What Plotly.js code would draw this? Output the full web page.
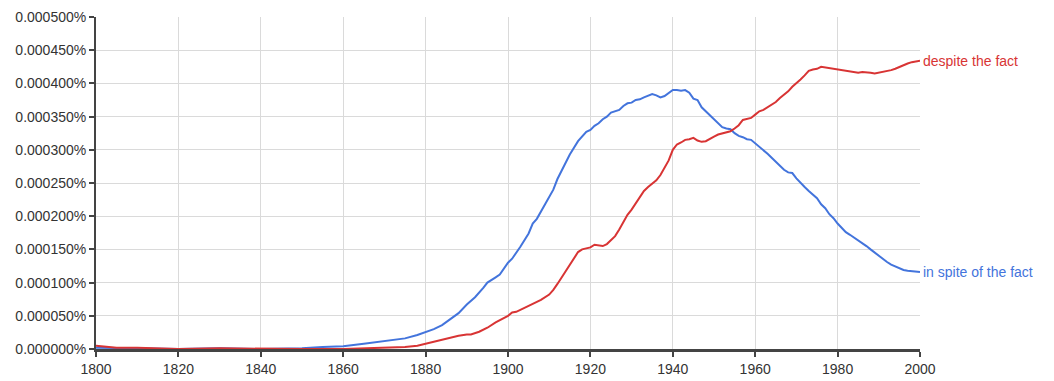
<!DOCTYPE html>
<html>
<head>
<meta charset="utf-8">
<script src="https://cdn.plot.ly/plotly-3.0.1.min.js"></script>
<style>html,body{margin:0;padding:0;background:#fff;}#chart{width:1054px;height:381px;}</style>
</head>
<body>
<div id="chart"></div>
<script>
// Values in units of 0.0001 %
const inSpiteYears = [1800,1805,1810,1820,1830,1840,1850,1855,1860,1865,1869,1872,1875,1878,1880,1882,1884,1886,1888,1890,1892,1894,1895,1897,1898,1900,1901,1903,1905,1906,1907,1909,1911,1912,1913,1915,1917,1918,1919,1920,1921,1922,1923,1924,1925,1927,1928,1929,1930,1931,1932,1933,1934,1935,1936,1937,1938,1939,1940,1941,1942,1943,1944,1945,1946,1947,1948,1949,1950,1951,1952,1953,1954,1955,1956,1957,1958,1959,1960,1961,1962,1963,1964,1965,1966,1967,1968,1969,1970,1971,1972,1973,1974,1975,1976,1977,1978,1979,1980,1981,1982,1983,1984,1985,1986,1987,1988,1989,1990,1991,1992,1993,1994,1995,1996,1997,1998,1999,2000];
const inSpiteValues = [0.02,0.01,0.01,0.0,0.01,0.0,0.01,0.03,0.04,0.08,0.11,0.13,0.16,0.21,0.25,0.30,0.36,0.45,0.54,0.67,0.78,0.92,1.0,1.08,1.12,1.30,1.36,1.54,1.74,1.89,1.96,2.18,2.40,2.56,2.68,2.93,3.13,3.20,3.27,3.30,3.36,3.40,3.46,3.50,3.56,3.60,3.66,3.70,3.71,3.75,3.76,3.79,3.81,3.84,3.82,3.79,3.81,3.85,3.90,3.90,3.89,3.90,3.86,3.77,3.75,3.64,3.58,3.52,3.47,3.40,3.34,3.32,3.31,3.25,3.21,3.19,3.16,3.15,3.10,3.05,3.00,2.94,2.88,2.82,2.76,2.70,2.66,2.65,2.57,2.50,2.44,2.38,2.33,2.27,2.18,2.12,2.03,1.97,1.89,1.82,1.76,1.72,1.68,1.63,1.59,1.55,1.50,1.45,1.41,1.36,1.31,1.27,1.24,1.21,1.19,1.18,1.17,1.16,1.16];

const despiteYears = [1800,1802,1805,1810,1815,1820,1830,1840,1850,1860,1865,1870,1875,1878,1880,1882,1884,1886,1888,1890,1891,1893,1895,1897,1899,1900,1901,1902,1904,1906,1908,1910,1911,1912,1913,1914,1915,1916,1917,1918,1919,1920,1921,1922,1923,1924,1925,1926,1927,1928,1929,1930,1931,1932,1933,1934,1935,1936,1937,1938,1939,1940,1941,1942,1943,1944,1945,1946,1947,1948,1949,1950,1951,1952,1953,1954,1955,1956,1957,1958,1959,1960,1961,1962,1963,1964,1965,1966,1967,1968,1969,1970,1971,1972,1973,1974,1975,1976,1977,1978,1979,1980,1981,1982,1983,1984,1985,1986,1987,1988,1989,1990,1991,1992,1993,1994,1995,1996,1997,1998,1999,2000];
const despiteValues = [0.05,0.04,0.02,0.02,0.01,0.0,0.01,0.0,0.0,0.0,0.01,0.02,0.03,0.05,0.08,0.11,0.15,0.18,0.20,0.22,0.22,0.26,0.32,0.40,0.46,0.50,0.55,0.56,0.62,0.68,0.74,0.82,0.89,0.98,1.08,1.18,1.28,1.38,1.46,1.50,1.52,1.53,1.57,1.56,1.55,1.58,1.64,1.70,1.80,1.92,2.02,2.10,2.20,2.30,2.38,2.44,2.49,2.54,2.62,2.74,2.84,3.00,3.08,3.11,3.15,3.16,3.18,3.14,3.12,3.13,3.17,3.20,3.23,3.25,3.27,3.28,3.32,3.37,3.45,3.46,3.48,3.53,3.58,3.60,3.64,3.67,3.72,3.78,3.83,3.88,3.95,4.00,4.06,4.12,4.19,4.21,4.22,4.25,4.24,4.23,4.22,4.22,4.21,4.20,4.19,4.17,4.16,4.17,4.17,4.16,4.15,4.16,4.18,4.19,4.20,4.22,4.25,4.28,4.30,4.32,4.33,4.34];

const seriesNames = ['despite the fact', 'in spite of the fact'];
const xTickVals = [1800,1820,1840,1860,1880,1900,1920,1940,1960,1980,2000];

const BLUE = '#4374dc';
const RED = '#d83434';
const scale = v => v * 1e-4;

const traces = [
  {x: inSpiteYears, y: inSpiteValues.map(scale), type: 'scatter', mode: 'lines',
   name: seriesNames[1], line: {color: BLUE, width: 2}},
  {x: despiteYears, y: despiteValues.map(scale), type: 'scatter', mode: 'lines',
   name: seriesNames[0], line: {color: RED, width: 2}}
];

const annotations = [
  {x: despiteYears[despiteYears.length-1], y: scale(despiteValues[despiteValues.length-1]),
   text: seriesNames[0], font: {color: RED}},
  {x: inSpiteYears[inSpiteYears.length-1], y: scale(inSpiteValues[inSpiteValues.length-1]),
   text: seriesNames[1], font: {color: BLUE}}
].map(a => Object.assign({xref: 'x', yref: 'y', showarrow: false, xanchor: 'left',
   yanchor: 'middle', xshift: 1}, a, {font: Object.assign({family: 'Liberation Sans, Arial, sans-serif', size: 14}, a.font)}));

const layout = {
  width: 1054, height: 381,
  margin: {l: 96, r: 134, t: 17, b: 32, pad: 0},
  paper_bgcolor: '#fff', plot_bgcolor: '#fff',
  showlegend: false,
  font: {family: 'Liberation Sans, Arial, sans-serif', size: 14, color: '#333'},
  xaxis: {range: [1800, 2000], tickvals: xTickVals, showgrid: true, gridcolor: '#dadada', gridwidth: 1,
    zeroline: false, showline: true, linecolor: '#444', linewidth: 3, ticks: 'outside', ticklen: 5,
    tickwidth: 2, tickcolor: '#444', fixedrange: true},
  yaxis: {range: [0, 0.0005], dtick: 0.00005, tick0: 0, tickformat: '.6f', ticksuffix: '%',
    showgrid: true, gridcolor: '#dadada', gridwidth: 1, zeroline: false, showline: true,
    linecolor: '#444', linewidth: 2, ticks: 'outside', ticklen: 5, tickwidth: 2, tickcolor: '#444', fixedrange: true},
  annotations: annotations
};

Plotly.newPlot('chart', traces, layout, {displayModeBar: false, staticPlot: true});
</script>
</body>
</html>
